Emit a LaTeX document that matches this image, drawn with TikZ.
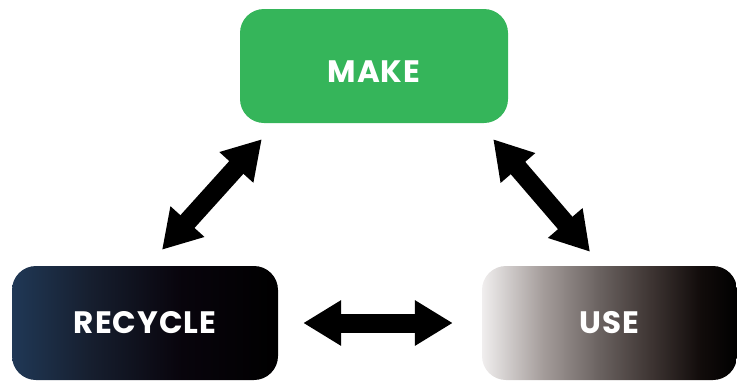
\documentclass[tikz,border=0pt]{standalone}
\usepackage{fontspec}
\newfontfamily\boxfont{Poppins}[LetterSpace=3]
\usetikzlibrary{arrows.meta,calc}

\definecolor{makegreen}{RGB}{53,181,90}
\definecolor{rnavy}{RGB}{32,56,86}
\definecolor{rmid}{RGB}{22,30,46}
\definecolor{rdark}{RGB}{8,4,12}
\definecolor{u0}{RGB}{240,238,238}
\definecolor{u1}{RGB}{164,156,154}
\definecolor{u2}{RGB}{106,98,96}
\definecolor{u3}{RGB}{62,53,51}
\definecolor{u4}{RGB}{18,12,11}

% horizontal colour ramps for the lower two boxes
\pgfdeclarehorizontalshading{recycleshade}{100bp}{color(0bp)=(rnavy); color(25bp)=(rnavy); color(40bp)=(rmid); color(57bp)=(rdark); color(75bp)=(black); color(100bp)=(black)}
\pgfdeclarehorizontalshading{useshade}{100bp}{color(0bp)=(u0); color(25bp)=(u0); color(37bp)=(u1); color(48bp)=(u2); color(58bp)=(u3); color(67.7bp)=(u4); color(75bp)=(black); color(100bp)=(black)}

\tikzset{
  stage/.style={rounded corners=24pt, minimum height=114pt, inner sep=0pt,
    text=white, font=\boxfont\bfseries\fontsize{31}{31}\selectfont,
    text height=21.5pt, text depth=0pt},
  link/.style={line width=19pt,
    {Triangle[length=38pt,width=43pt]}-{Triangle[length=38pt,width=43pt]}}
}

\begin{document}
\begin{tikzpicture}[x=1pt,y=-1pt]
  \useasboundingbox (0,0) rectangle (737,381);

  \node[stage, fill=makegreen, minimum width=268pt, text height=33.5pt] (make) at (374,66) {MAKE};
  \node[stage, shading=recycleshade, minimum width=266pt] (recycle) at (145,323) {RECYCLE};
  \node[stage, shading=useshade, minimum width=255pt] (use) at (609.5,323) {USE};

  \draw[link] ($(recycle.north)+(17,-16)$) -- ($(make.south west)+(22,16)$);
  \draw[link] ($(make.south east)+(-15,16)$) -- ($(use.north)+(-19.5,-14)$);
  \draw[link] ($(recycle.east)+(25,0)$) -- ($(use.west)+(-29,0)$);
\end{tikzpicture}
\end{document}
